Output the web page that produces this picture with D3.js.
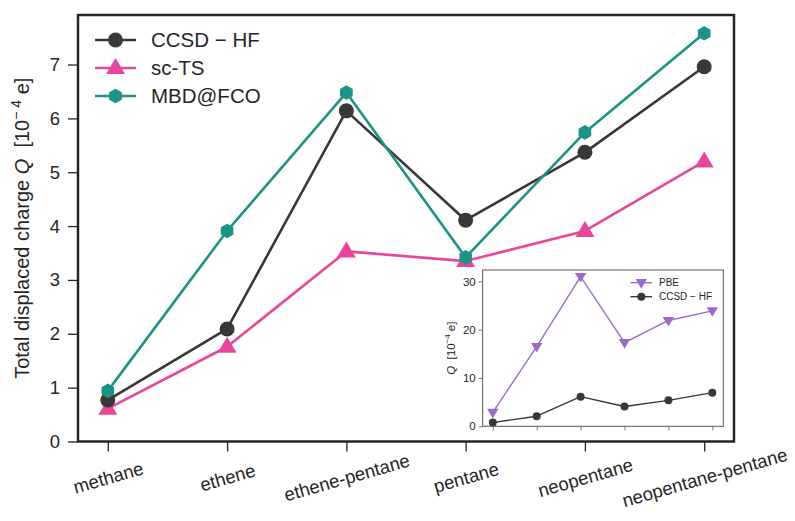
<!DOCTYPE html>
<html>
<head>
<meta charset="utf-8">
<script src="https://cdn.jsdelivr.net/npm/d3@7"></script>
<style>
  body { margin: 0; background: #fff; }
  svg { font-family: "Liberation Sans", Arial, sans-serif; }
</style>
</head>
<body>
<svg id="chart" width="795" height="521"></svg>
<script>
// Systems compared
const systems = ["methane", "ethene", "ethene-pentane", "pentane", "neopentane", "neopentane-pentane"];

// Total displaced charge Q, in units of 1e-4 e
const ccsdHF = [0.77, 2.09, 6.14, 4.11, 5.37, 6.96];
const scTS   = [0.61, 1.76, 3.53, 3.35, 3.91, 5.20];
const mbdFCO = [0.94, 3.91, 6.48, 3.42, 5.74, 7.58];
const pbe    = [2.9, 16.5, 31.0, 17.3, 21.9, 23.9];

const mainTicks  = [0, 1, 2, 3, 4, 5, 6, 7];
const insetTicks = [0, 10, 20, 30];

const colors = { ccsd: "#383838", sc: "#e8469a", mbd: "#1b9385", pbe: "#9a6bcc" };

const svg = d3.select("#chart");

// ---------- main axes ----------
const M = { left: 78, right: 734, top: 15, bottom: 441.5 };
const x = d3.scaleLinear().domain([-0.25, 5.25]).range([M.left, M.right]);
const y = d3.scaleLinear().domain([0, 7.92]).range([M.bottom, M.top]);

const main = svg.append("g");

const xAxis = main.append("g")
  .attr("transform", `translate(0,${M.bottom})`)
  .call(d3.axisBottom(x).tickValues(d3.range(systems.length)).tickFormat(i => systems[i]).tickSize(10).tickPadding(6));
xAxis.select(".domain").remove();
xAxis.selectAll(".tick line").attr("stroke", "#262626").attr("stroke-width", 1.3);
xAxis.selectAll(".tick text")
  .attr("font-size", 18.5).attr("fill", "#262626")
  .attr("text-anchor", "middle")
  .attr("transform", "translate(0,36) rotate(-16)")
  .attr("dy", "0.35em").attr("y", 0);

const yAxis = main.append("g")
  .attr("transform", `translate(${M.left},0)`)
  .call(d3.axisLeft(y).tickValues(mainTicks).tickSize(10).tickPadding(8));
yAxis.select(".domain").remove();
yAxis.selectAll(".tick line").attr("stroke", "#262626").attr("stroke-width", 1.3);
yAxis.selectAll(".tick text").attr("font-size", 18.5).attr("fill", "#262626");

// y label with italic Q and superscript exponent
const yl = main.append("text")
  .attr("transform", `translate(29,${(M.top + M.bottom) / 2}) rotate(-90)`)
  .attr("text-anchor", "middle").attr("font-size", 20).attr("fill", "#262626");
yl.append("tspan").text("Total displaced charge ");
yl.append("tspan").attr("font-style", "italic").text("Q");
yl.append("tspan").text("\u00a0 [10");
yl.append("tspan").attr("dy", -8).attr("font-size", 14).text("− 4");
yl.append("tspan").attr("dy", 8).text(" e]");

// series drawing helpers
const hexPath = r => {
  const pts = d3.range(6).map(k => {
    const a = Math.PI / 6 + k * Math.PI / 3;
    return [r * Math.cos(a), r * Math.sin(a)];
  });
  return "M" + pts.map(p => p.join(",")).join("L") + "Z";
};
const triUp = r => `M0,${-r}L${r * 0.95},${r * 0.6}L${-r * 0.95},${r * 0.6}Z`;
const triDown = r => `M0,${r}L${r * 0.95},${-r * 0.6}L${-r * 0.95},${-r * 0.6}Z`;

function drawSeries(g, xs, ys, vals, color, width, marker) {
  const line = d3.line().x((d, i) => xs(i)).y(d => ys(d));
  g.append("path").datum(vals).attr("d", line)
    .attr("fill", "none").attr("stroke", color).attr("stroke-width", width)
    .attr("stroke-linejoin", "round");
  g.selectAll(null).data(vals).enter().append(marker.tag || "path")
    .each(function (d, i) {
      const s = d3.select(this);
      if (marker.tag === "circle") {
        s.attr("cx", xs(i)).attr("cy", ys(d)).attr("r", marker.r);
      } else {
        s.attr("d", marker.path).attr("transform", `translate(${xs(i)},${ys(d)})`);
      }
    })
    .attr("fill", color);
}

const plot = main.append("g");
drawSeries(plot, x, y, scTS, colors.sc, 2.6, { path: triUp(10) });
drawSeries(plot, x, y, ccsdHF, colors.ccsd, 2.6, { tag: "circle", r: 7.5 });
drawSeries(plot, x, y, mbdFCO, colors.mbd, 2.6, { path: hexPath(7.3) });

// main legend
const legend = main.append("g");
const legItems = [
  { label: "CCSD − HF", color: colors.ccsd, marker: { tag: "circle", r: 7.5 } },
  { label: "sc-TS", color: colors.sc, marker: { path: triUp(10) } },
  { label: "MBD@FCO", color: colors.mbd, marker: { path: hexPath(7.3) } }
];
legItems.forEach((it, k) => {
  const yy = 40 + k * 28;
  legend.append("line").attr("x1", 95).attr("x2", 136).attr("y1", yy).attr("y2", yy)
    .attr("stroke", it.color).attr("stroke-width", 2.6);
  if (it.marker.tag === "circle") {
    legend.append("circle").attr("cx", 115.5).attr("cy", yy).attr("r", it.marker.r).attr("fill", it.color);
  } else {
    legend.append("path").attr("d", it.marker.path).attr("transform", `translate(115.5,${yy})`).attr("fill", it.color);
  }
  legend.append("text").attr("x", 151).attr("y", yy).attr("dy", "0.35em")
    .attr("font-size", 20.5).attr("fill", "#262626").text(it.label);
});

// frame of the main axes
main.append("rect").attr("x", M.left).attr("y", M.top)
  .attr("width", M.right - M.left).attr("height", M.bottom - M.top)
  .attr("fill", "none").attr("stroke", "#262626").attr("stroke-width", 2.5);

// ---------- inset ----------
const I = { left: 482.7, right: 723.3, top: 270, bottom: 426.3 };
const xi = d3.scaleLinear().domain([-0.23, 5.25]).range([I.left, I.right]);
const yi = d3.scaleLinear().domain([0, 32.35]).range([I.bottom, I.top]);

const inset = svg.append("g");
inset.append("rect").attr("x", I.left).attr("y", I.top)
  .attr("width", I.right - I.left).attr("height", I.bottom - I.top)
  .attr("fill", "#fff");

const xiAxis = inset.append("g").attr("transform", `translate(0,${I.bottom})`)
  .call(d3.axisBottom(xi).tickValues(d3.range(systems.length)).tickFormat("").tickSize(4));
xiAxis.select(".domain").remove();
xiAxis.selectAll(".tick line").attr("stroke", "#555").attr("stroke-width", 0.8);

const yiAxis = inset.append("g").attr("transform", `translate(${I.left},0)`)
  .call(d3.axisLeft(yi).tickValues(insetTicks).tickSize(4).tickPadding(3));
yiAxis.select(".domain").remove();
yiAxis.selectAll(".tick line").attr("stroke", "#555").attr("stroke-width", 0.8);
yiAxis.selectAll(".tick text").attr("font-size", 11.5).attr("fill", "#262626");

const yil = inset.append("text")
  .attr("transform", `translate(455,${(I.top + I.bottom) / 2}) rotate(-90)`)
  .attr("text-anchor", "middle").attr("font-size", 11.5).attr("fill", "#262626");
yil.append("tspan").attr("font-style", "italic").text("Q");
yil.append("tspan").text("\u00a0 [10");
yil.append("tspan").attr("dy", -5).attr("font-size", 8).text("−4");
yil.append("tspan").attr("dy", 5).text(" e]");

const iplot = inset.append("g");
drawSeries(iplot, xi, yi, pbe, colors.pbe, 1.4, { path: triDown(6) });
drawSeries(iplot, xi, yi, ccsdHF, colors.ccsd, 1.4, { tag: "circle", r: 4 });

// inset legend
const ilegItems = [
  { label: "PBE", color: colors.pbe, marker: { path: triDown(6) } },
  { label: "CCSD − HF", color: colors.ccsd, marker: { tag: "circle", r: 4 } }
];
ilegItems.forEach((it, k) => {
  const yy = 282.7 + k * 14;
  inset.append("line").attr("x1", 630.5).attr("x2", 652).attr("y1", yy).attr("y2", yy)
    .attr("stroke", it.color).attr("stroke-width", 1.4);
  if (it.marker.tag === "circle") {
    inset.append("circle").attr("cx", 641.3).attr("cy", yy).attr("r", it.marker.r).attr("fill", it.color);
  } else {
    inset.append("path").attr("d", it.marker.path).attr("transform", `translate(641.3,${yy})`).attr("fill", it.color);
  }
  inset.append("text").attr("x", 659).attr("y", yy).attr("dy", "0.35em")
    .attr("font-size", 10).attr("fill", "#262626").text(it.label);
});

inset.append("rect").attr("x", I.left).attr("y", I.top)
  .attr("width", I.right - I.left).attr("height", I.bottom - I.top)
  .attr("fill", "none").attr("stroke", "#555").attr("stroke-width", 1);
</script>
</body>
</html>
